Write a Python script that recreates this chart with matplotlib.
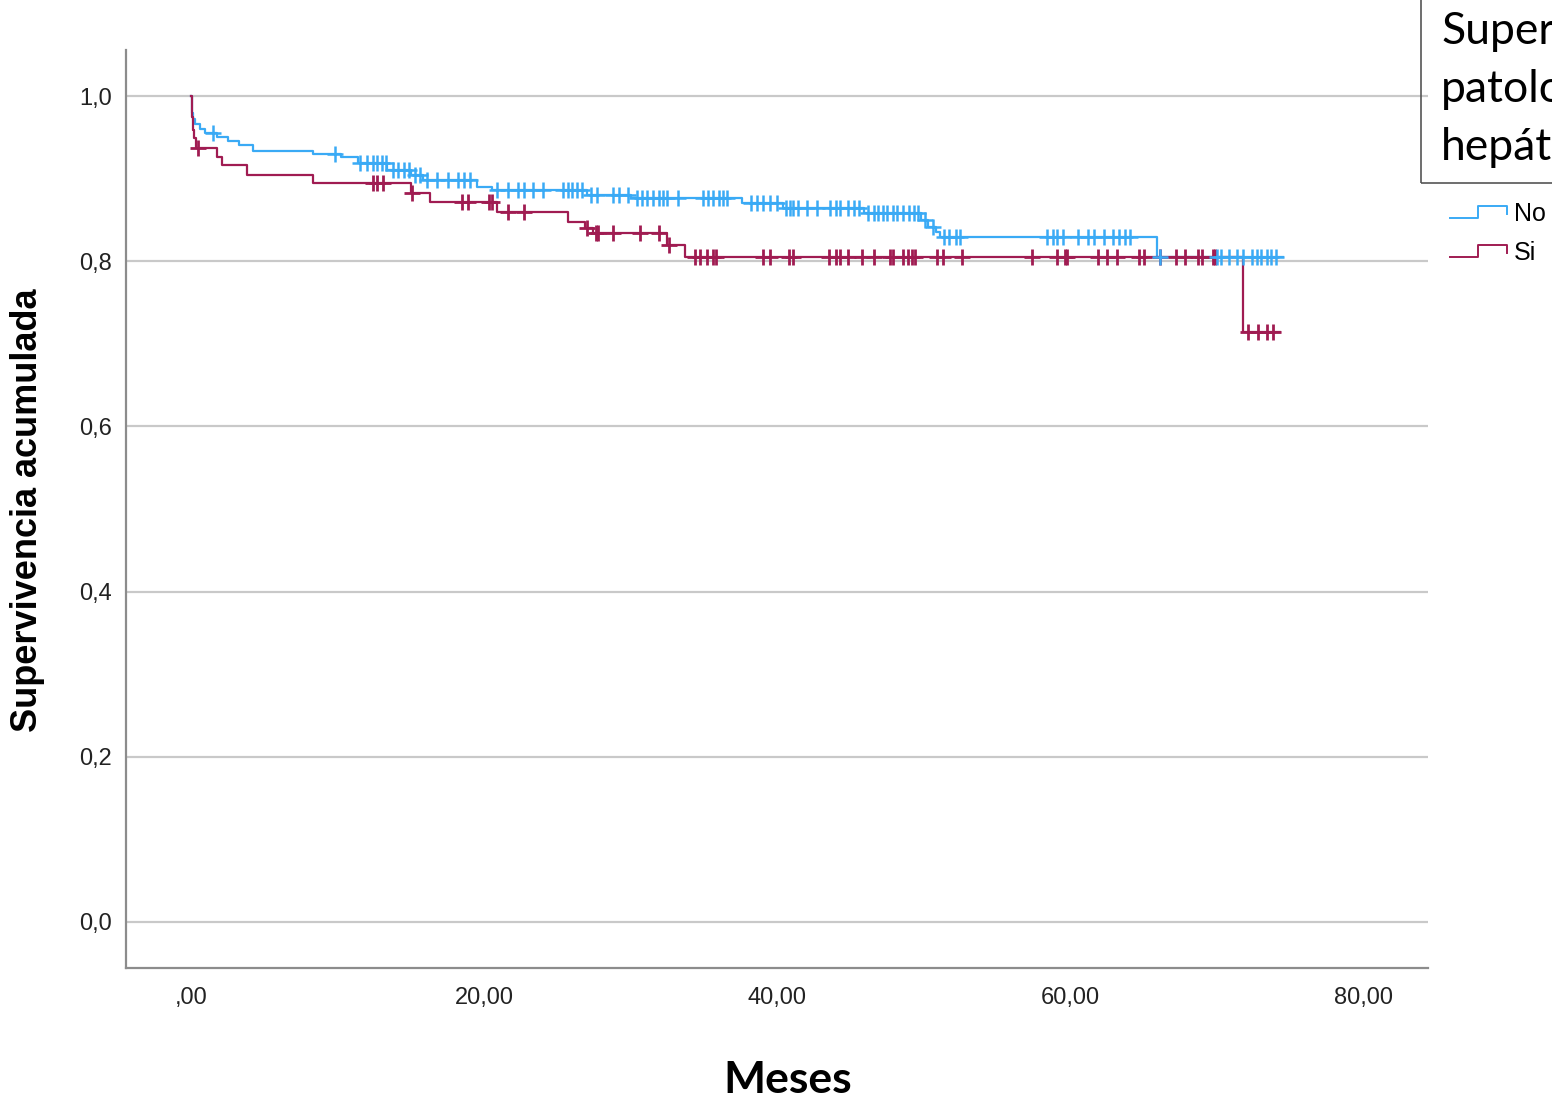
import matplotlib
matplotlib.use("Agg")
import matplotlib.pyplot as plt
import numpy as np
from matplotlib.lines import Line2D
from matplotlib.patches import Rectangle

# Kaplan-Meier steps (months, cumulative survival)
no_t = [0, 0.03, 0.08, 0.15, 0.3, 0.6, 0.96, 1.8, 2.5, 3.3, 4.2, 8.3, 10.2, 11.4,
        13.4, 15.0, 15.8, 19.5, 20.5, 27.0, 30.0, 37.6, 40.4, 45.9, 49.8, 50.3,
        50.8, 51.1, 65.9, 74.5]
no_s = [1.0, 0.99, 0.98, 0.972, 0.966, 0.960, 0.955, 0.950, 0.946, 0.941, 0.933,
        0.930, 0.926, 0.919, 0.910, 0.904, 0.898, 0.890, 0.886, 0.880, 0.876,
        0.871, 0.864, 0.858, 0.850, 0.841, 0.835, 0.829, 0.805, 0.805]
no_cens = [1.5, 9.8, 11.5, 12.0, 12.4, 12.7, 13.0, 13.3, 13.8, 14.1, 14.5, 14.9,
           15.3, 15.6, 16.1, 16.8, 17.5, 18.2, 18.6, 19.0, 20.9, 21.6, 22.3, 22.7,
           23.3, 24.0, 25.4, 25.7, 26.0, 26.3, 26.7, 27.3, 27.7, 28.8, 29.2, 29.8,
           30.4, 30.8, 31.1, 31.5, 31.9, 32.2, 32.5, 33.2, 34.9, 35.3, 35.6, 36.0,
           36.3, 36.6, 38.2, 38.6, 39.0, 39.5, 40.0, 40.6, 40.9, 41.1, 41.4, 42.0,
           42.7, 43.6, 44.0, 44.3, 44.8, 45.2, 45.6, 46.2, 46.6, 46.9, 47.2, 47.5,
           47.9, 48.2, 48.6, 49.0, 49.3, 49.6, 50.1, 50.6, 51.4, 51.7, 52.2, 52.5,
           58.4, 58.8, 59.1, 59.5, 60.5, 61.2, 61.6, 62.3, 62.9, 63.3, 63.7, 64.1,
           66.1, 70.0, 70.3, 70.8, 71.4, 71.8, 72.4, 72.7, 73.0, 73.4, 73.7, 74.0]

si_t = [0, 0.03, 0.1, 0.2, 0.35, 1.8, 2.1, 3.8, 8.3, 15.0, 16.3, 20.9, 25.7, 26.9,
        27.4, 32.5, 33.7, 71.8, 74.3]
si_s = [1.0, 0.975, 0.959, 0.949, 0.937, 0.926, 0.916, 0.904, 0.895, 0.883, 0.872,
        0.860, 0.847, 0.840, 0.834, 0.820, 0.805, 0.714, 0.714]
si_cens = [0.5, 12.4, 12.7, 13.1, 15.1, 18.5, 18.9, 20.3, 20.5, 21.6, 22.7, 27.0,
           27.6, 27.8, 28.8, 30.6, 31.9, 32.6, 34.4, 34.7, 35.2, 35.6, 35.8, 39.0,
           39.5, 40.8, 41.1, 43.5, 44.0, 44.3, 44.8, 45.8, 46.6, 47.7, 47.9, 48.6,
           48.9, 49.2, 49.4, 50.9, 51.3, 52.6, 57.4, 59.1, 59.6, 59.8, 61.9, 62.5,
           63.2, 64.7, 65.0, 66.1, 67.2, 67.8, 68.7, 69.0, 69.7, 69.9, 72.1, 72.8,
           73.4, 73.8]

groups = ["No", "Si"]
colors = ["#3aaaf5", "#a01c52"]
xticks = [0, 20, 40, 60, 80]
xlabels = [",00", "20,00", "40,00", "60,00", "80,00"]
yticks = [0, 0.2, 0.4, 0.6, 0.8, 1.0]
ylabels = ["0,0", "0,2", "0,4", "0,6", "0,8", "1,0"]
# legend title, cut by the right edge as in the original export
title_lines = ["Supervivencia", "patología", "hepática"]


def surv_at(t, s, x):
    idx = np.searchsorted(t, x, side="right") - 1
    return np.asarray(s)[idx]


plt.rcParams['font.family'] = ['Liberation Sans', 'DejaVu Sans']
W, H = 1552, 1098
fig = plt.figure(figsize=(W / 100, H / 100), dpi=100)
ax = fig.add_axes([126 / W, 1 - 968 / H, (1428 - 126) / W, (968 - 50) / H])

ax.set_xlim(-4.44, 84.4)
ax.set_ylim(-0.0557, 1.0557)
for y in yticks:
    ax.axhline(y, color="#c9c9c9", lw=1.6, zorder=1)

ax.step(no_t, no_s, where="post", color=colors[0], lw=1.6, zorder=3)
ax.step(si_t, si_s, where="post", color=colors[1], lw=1.6, zorder=3)
ax.plot(si_cens, surv_at(si_t, si_s, si_cens), ls="none", marker="+",
        ms=12, mew=2.0, color=colors[1], zorder=4)
ax.plot(no_cens, surv_at(no_t, no_s, no_cens), ls="none", marker="+",
        ms=12, mew=1.8, color=colors[0], zorder=5)

for side in ["top", "right"]:
    ax.spines[side].set_visible(False)
for side in ["left", "bottom"]:
    ax.spines[side].set_color("#8c8c8c")
    ax.spines[side].set_linewidth(1.6)

ax.set_xticks(xticks)
ax.set_xticklabels(xlabels)
ax.set_yticks(yticks)
ax.set_yticklabels(ylabels)
ax.tick_params(length=0, labelsize=17, colors="#222222")
ax.tick_params(axis="x", pad=14)
ax.tick_params(axis="y", pad=10)

fig.text(28 / W, 1 - 510 / H, "Supervivencia acumulada", rotation=90,
         ha="center", va="center", fontsize=26, fontweight="bold")
fig.text(788 / W, 1 - 1093 / H, "Meses", ha="center", va="baseline",
         fontsize=32, fontweight="bold", family="Lato")

# legend title box
fig.patches.append(Rectangle((1421 / W, 1 - 183 / H), 0.2, 0.3,
                             transform=fig.transFigure, fill=False,
                             ec="#555555", lw=1.2))
for i, line in enumerate(title_lines):
    fig.text(1441 / W, 1 - (44 + 58 * i) / H, line, ha="left", va="baseline",
             fontsize=32, family="Lato")

# legend entries with step icons
for i, (name, col) in enumerate(zip(groups, colors)):
    dy = 39 * i
    xs = np.array([1450, 1478, 1478, 1507, 1507]) / W
    ys = 1 - (np.array([218, 218, 206, 206, 214]) + dy) / H
    fig.lines.append(Line2D(xs, ys, transform=fig.transFigure, color=col, lw=1.4))
    fig.text(1514 / W, 1 - (214 + dy) / H, name, ha="left", va="center",
             fontsize=18)

fig.savefig("out.png", dpi=100)
